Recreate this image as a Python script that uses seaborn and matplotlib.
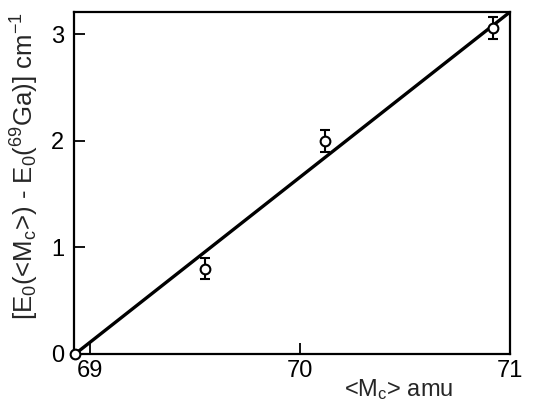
import numpy as np
import matplotlib
matplotlib.use("Agg")
import matplotlib.pyplot as plt
import seaborn as sns

# measured points: mean cluster mass vs zero-point energy shift
mass = [68.93, 69.55, 70.12, 70.92]
shift = [0.0, 0.80, 2.00, 3.06]
shift_err = [0.0, 0.10, 0.10, 0.10]

# linear fit drawn across the panel
fit_mass = [68.93, 71.0]
fit_shift = [0.0, 3.21]

x_ticks = [69, 70, 71]
y_ticks = [0, 1, 2, 3]

sns.set_theme(style="ticks")
plt.rcParams["font.family"] = ["Liberation Sans", "DejaVu Sans"]
plt.rcParams["mathtext.fontset"] = "custom"
plt.rcParams["mathtext.rm"] = "Liberation Sans"
plt.rcParams["mathtext.it"] = "Liberation Sans"

fig = plt.figure(figsize=(5.43, 4.03), dpi=100)
ax = fig.add_axes([0.136, 0.1216, 0.803, 0.8484])

sns.lineplot(x=fit_mass, y=fit_shift, ax=ax, color="black", linewidth=2.4)
ax.errorbar(mass, shift, yerr=shift_err, fmt="o", mfc="white", mec="black",
            mew=1.5, ms=7, ecolor="black", elinewidth=1.5, capsize=3.5,
            capthick=1.5, zorder=5, clip_on=False)

ax.set_xlim(68.924, 71.0)
ax.set_ylim(0, 3.21)
ax.set_xticks(x_ticks)
ax.set_yticks(y_ticks)
ax.tick_params(direction="in", length=8, width=1.3, labelsize=17, colors="black")
ax.tick_params(axis="x", pad=4)
ax.tick_params(axis="y", pad=7)
for s in ax.spines.values():
    s.set_linewidth(1.6)
    s.set_color("black")

ax.set_xlabel("<M$_c$> amu", fontsize=17)
ax.xaxis.set_label_coords(0.745, -0.068)
ax.set_ylabel("[E$_0$(<M$_c$>) - E$_0$($^{69}$Ga)] cm$^{-1}$", fontsize=18.5)
ax.yaxis.set_label_coords(-0.075, 0.55)

fig.savefig("out.png", dpi=100)
